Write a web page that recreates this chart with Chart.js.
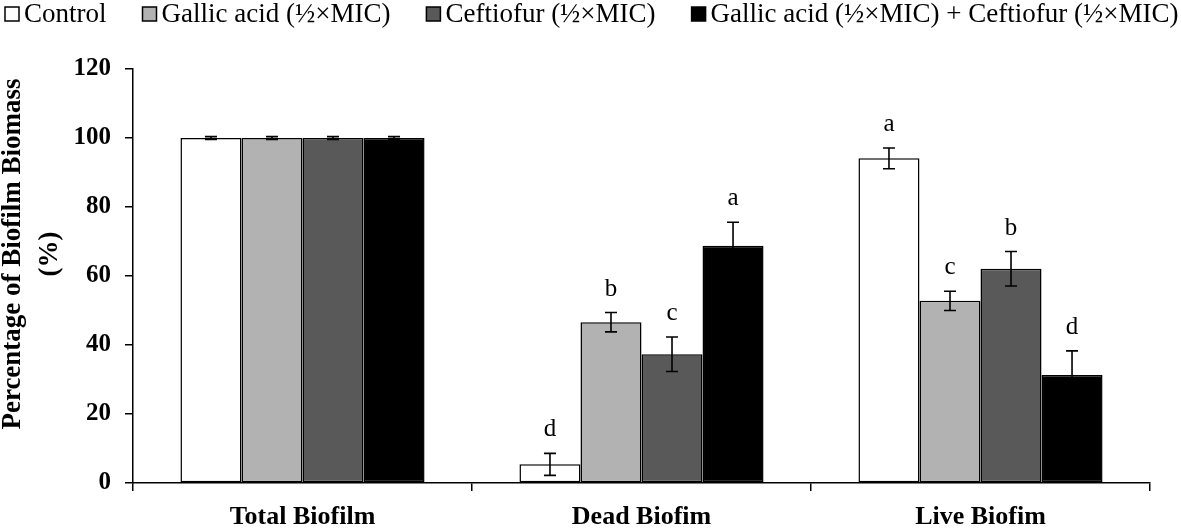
<!DOCTYPE html>
<html>
<head>
<meta charset="utf-8">
<script src="https://cdn.jsdelivr.net/npm/chart.js@4"></script>
<style>
    html, body { margin: 0; padding: 0; background: #fff; }
    #wrap { width: 1181px; height: 528px; position: relative; }
</style>
</head>
<body>
<div id="wrap"><canvas id="biofilmChart"></canvas></div>
<script>
// Data
const categories = ['Total Biofilm', 'Dead Biofim', 'Live Biofim'];
const seriesNames = ['Control', 'Gallic acid (½×MIC)', 'Ceftiofur (½×MIC)', 'Gallic acid (½×MIC) + Ceftiofur (½×MIC)'];

const controlVals = [100, 5.4, 94.1];
const gallicVals = [100, 46.6, 52.8];
const ceftiofurVals = [100, 37.3, 62.1];
const comboVals = [100, 68.8, 31.3];

const controlErr = [0.4, 3.2, 3.0];
const gallicErr = [0.4, 2.8, 2.8];
const ceftiofurErr = [0.4, 5.0, 5.0];
const comboErr = [0.4, 6.8, 7.0];

const controlLetters = ['', 'd', 'a'];
const gallicLetters = ['', 'b', 'c'];
const ceftiofurLetters = ['', 'c', 'b'];
const comboLetters = ['', 'a', 'd'];

const yTicks = [0, 20, 40, 60, 80, 100, 120];

const fills = ['#ffffff', '#b2b2b2', '#595959', '#000000'];
const SERIF = '"Liberation Serif", "Times New Roman", serif';

const errors = [controlErr, gallicErr, ceftiofurErr, comboErr];
const letters = [controlLetters, gallicLetters, ceftiofurLetters, comboLetters];

// error bars + significance letters
const errorBars = {
    id: 'errorBars',
    afterDatasetsDraw(chart) {
        const ctx = chart.ctx;
        const y = chart.scales.y;
        ctx.save();
        chart.data.datasets.forEach((ds, di) => {
            const meta = chart.getDatasetMeta(di);
            meta.data.forEach((bar, i) => {
                const v = ds.data[i];
                const e = errors[di][i];
                const top = y.getPixelForValue(v + e);
                const bot = y.getPixelForValue(v - e);
                ctx.strokeStyle = '#000';
                ctx.lineWidth = 1.6;
                ctx.beginPath();
                ctx.moveTo(bar.x, top); ctx.lineTo(bar.x, bot);
                ctx.moveTo(bar.x - 6, top); ctx.lineTo(bar.x + 6, top);
                ctx.moveTo(bar.x - 6, bot); ctx.lineTo(bar.x + 6, bot);
                ctx.stroke();
                const t = letters[di][i];
                if (t) {
                    ctx.fillStyle = '#000';
                    ctx.font = '25px ' + SERIF;
                    ctx.textAlign = 'center';
                    ctx.textBaseline = 'alphabetic';
                    ctx.fillText(t, bar.x, top - 17);
                }
            });
        });
        ctx.restore();
    }
};

// legend and y-axis title drawn by hand so they sit where the figure has them
const decorations = {
    id: 'decorations',
    afterDraw(chart) {
        const ctx = chart.ctx;
        ctx.save();
        ctx.font = '27px ' + SERIF;
        ctx.textBaseline = 'middle';
        ctx.textAlign = 'left';
        let x = 5;
        const cy = 14;
        chart.data.datasets.forEach((ds) => {
            ctx.fillStyle = ds.backgroundColor;
            ctx.fillRect(x, cy - 7, 14, 14);
            ctx.strokeStyle = '#000';
            ctx.lineWidth = 1.5;
            ctx.strokeRect(x, cy - 7, 14, 14);
            ctx.fillStyle = '#000';
            ctx.fillText(ds.label, x + 19, cy + 1);
            x += 19 + ctx.measureText(ds.label).width + 36;
        });

        const ya = chart.scales.y;
        const midY = (ya.top + ya.bottom) / 2 - 22;
        ctx.font = 'bold 27px ' + SERIF;
        ctx.textAlign = 'center';
        ctx.translate(13, midY);
        ctx.rotate(-Math.PI / 2);
        ctx.fillText('Percentage of Biofilm Biomass', 0, 0);
        ctx.fillText('(%)', 0, 37);
        ctx.restore();
    }
};

const ctx = document.getElementById('biofilmChart').getContext('2d');
new Chart(ctx, {
    type: 'bar',
    data: {
        labels: categories,
        datasets: [controlVals, gallicVals, ceftiofurVals, comboVals].map((vals, i) => ({
            label: seriesNames[i],
            data: vals,
            backgroundColor: fills[i],
            borderColor: '#000',
            borderWidth: 1.5,
            borderSkipped: false,
            barPercentage: 1.0,
            categoryPercentage: 0.72
        }))
    },
    options: {
        responsive: true,
        maintainAspectRatio: false,
        animation: false,
        devicePixelRatio: 1,
        layout: { padding: { top: 69, right: 31, bottom: 0, left: 0 } },
        plugins: {
            legend: { display: false },
            tooltip: { enabled: false }
        },
        scales: {
            x: {
                grid: { drawOnChartArea: false, offset: true, tickLength: 8, color: '#000', lineWidth: 1.5 },
                border: { color: '#000', width: 1.5 },
                ticks: { color: '#000', font: { family: SERIF, size: 26, weight: 'bold' }, padding: 11 },
                afterFit(scale) { scale.height = 45; }
            },
            y: {
                min: 0,
                max: 120,
                afterBuildTicks(scale) { scale.ticks = yTicks.map(v => ({ value: v })); },
                grid: { drawOnChartArea: false, tickLength: 8, color: '#000', lineWidth: 1.5 },
                border: { color: '#000', width: 1.5 },
                ticks: { color: '#000', font: { family: SERIF, size: 25, weight: 'bold' }, padding: 14 },
                afterFit(scale) { scale.width = 133; }
            }
        }
    },
    plugins: [errorBars, decorations]
});
</script>
</body>
</html>
